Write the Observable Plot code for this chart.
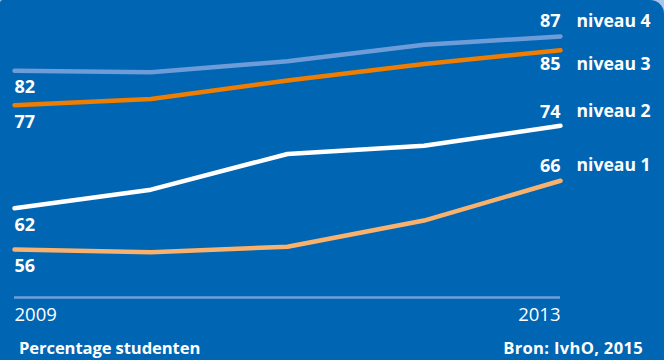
<!DOCTYPE html>
<html>
<head>
<meta charset="utf-8">
<script src="https://cdn.jsdelivr.net/npm/d3@7"></script>
<script src="https://cdn.jsdelivr.net/npm/@observablehq/plot@0.6"></script>
<style>
  html, body { margin: 0; padding: 0; background: #a8c5ea; }
  #wrap { width: 664px; height: 360px; background: #0065b2; overflow: hidden; position: relative; border-top-right-radius: 14px; border-top-left-radius: 3px; font-family: "Open Sans", sans-serif; color: #fff; }
  #caption { position: absolute; left: 0; top: 330px; width: 664px; height: 30px; }
  #caption .l { position: absolute; left: 19px; top: 6px; font-weight: 700; font-size: 16.6px; letter-spacing: -0.1px; }
  #caption .r { position: absolute; right: 21px; top: 6px; font-weight: 700; font-size: 16.6px; letter-spacing: 0.3px; }
  svg { display: block; }
</style>
</head>
<body>
<div id="wrap"><div id="chart"></div>
<div id="caption"><span class="l">Percentage studenten</span><span class="r">Bron: IvhO, 2015</span></div>
</div>
<script>
const years = [2009, 2010, 2011, 2012, 2013];
const series = ["niveau 4", "niveau 3", "niveau 2", "niveau 1"];
const niveau4 = [82, 81.8, 83.4, 85.8, 87];
const niveau3 = [77, 77.9, 80.6, 83, 85];
const niveau2 = [62, 64.7, 69.9, 71.1, 74];
const niveau1 = [56, 55.6, 56.4, 60.2, 66];
const colors = ["#6e9cd8", "#ef7d00", "#ffffff", "#f9b26e"];
const yAxisMin = 49;
const yAxisMax = 87;
const startOffsets = [16, 17, 17, 17];
const endOffsets = [-15, 14, -14, -15];

const allValues = [niveau4, niveau3, niveau2, niveau1];
const data = [];
series.forEach((s, i) => years.forEach((yr, j) => data.push({series: s, year: yr, value: allValues[i][j]})));
const firsts = series.map((s, i) => ({series: s, year: years[0], value: allValues[i][0], dy: startOffsets[i]}));
const lasts = series.map((s, i) => ({series: s, year: years[years.length - 1], value: allValues[i][years.length - 1], dy: endOffsets[i]}));

const marks = [
  Plot.ruleY([yAxisMin], {stroke: "#6fa1d8", strokeWidth: 2.5}),
  Plot.line(data, {x: "year", y: "value", z: "series", stroke: "series", strokeWidth: 4.5, strokeLinecap: "round", strokeLinejoin: "round"}),
  Plot.text([years[0]], {x: d => d, y: yAxisMin, text: d => String(d), dy: 18, textAnchor: "start", fill: "#fff", fontSize: 18.5, fontWeight: 400}),
  Plot.text([years[years.length - 1]], {x: d => d, y: yAxisMin, text: d => String(d), dy: 18, textAnchor: "end", fill: "#fff", fontSize: 18.5, fontWeight: 400})
];
firsts.forEach(d => marks.push(Plot.text([d], {x: "year", y: "value", text: d => String(d.value), dy: d.dy, textAnchor: "start", fill: "#fff", fontSize: 18, fontWeight: 700})));
lasts.forEach(d => {
  marks.push(Plot.text([d], {x: "year", y: "value", text: d => String(d.value), dy: d.dy, textAnchor: "end", fill: "#fff", fontSize: 18, fontWeight: 700}));
  marks.push(Plot.text([d], {x: "year", y: "value", text: "series", dy: d.dy, dx: 16, textAnchor: "start", fill: "#fff", fontSize: 17.6, fontWeight: 700}));
});

const chart = Plot.plot({
  width: 664,
  height: 330,
  marginLeft: 14,
  marginRight: 104,
  marginTop: 36,
  marginBottom: 33,
  style: {background: "transparent", fontFamily: "Open Sans, sans-serif", overflow: "visible"},
  x: {domain: [years[0], years[years.length - 1]], axis: null},
  y: {domain: [yAxisMin, yAxisMax], axis: null},
  color: {domain: series, range: colors},
  marks
});
document.getElementById("chart").appendChild(chart);
</script>
</body>
</html>
